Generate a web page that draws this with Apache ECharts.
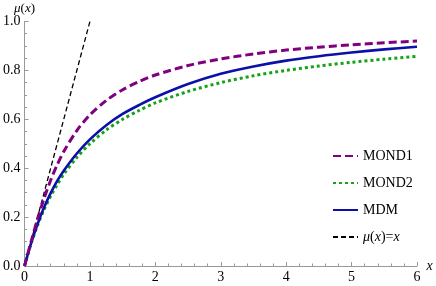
<!DOCTYPE html>
<html>
<head>
<meta charset="utf-8">
<script src="https://cdn.jsdelivr.net/npm/echarts@6/dist/echarts.min.js"></script>
<style>html,body{margin:0;padding:0;background:#fff;}#c{width:436px;height:286px;}</style>
</head>
<body>
<div id="c"></div>
<script>
var xs     = [0, 0.1, 0.2, 0.3, 0.4, 0.5, 0.6, 0.8, 1, 1.25, 1.5, 1.75, 2, 2.5, 3, 3.5, 4, 4.5, 5, 5.5, 6];
var mond1  = [0, 0.099, 0.193, 0.277, 0.351, 0.414, 0.468, 0.554, 0.618, 0.677, 0.721, 0.754, 0.781, 0.820, 0.847, 0.867, 0.883, 0.895, 0.905, 0.913, 0.920];
var mond2  = [0, 0.091, 0.167, 0.231, 0.286, 0.333, 0.375, 0.444, 0.500, 0.556, 0.600, 0.636, 0.667, 0.714, 0.750, 0.778, 0.800, 0.818, 0.833, 0.846, 0.857];
var mdm    = [0, 0.093, 0.172, 0.240, 0.298, 0.348, 0.390, 0.460, 0.518, 0.576, 0.622, 0.658, 0.690, 0.744, 0.786, 0.816, 0.840, 0.858, 0.873, 0.886, 0.897];
var idX    = [0, 1];
var idY    = [0, 1];
var names  = ['MOND1', 'MOND2', 'MDM', 'μ(x)=x'];

function pairs(a, b) { return a.map(function (v, i) { return [v, b[i]]; }); }

var FONT = 'Liberation Serif';
var chart = echarts.init(document.getElementById('c'), null, {renderer: 'canvas'});
chart.setOption({
  animation: false,
  backgroundColor: '#fff',
  textStyle: {fontFamily: FONT},
  grid: {left: 21, right: 19, top: 21.5, bottom: 20, containLabel: false},
  xAxis: {
    type: 'value', min: 0, max: 6, interval: 1,
    name: 'x', nameLocation: 'end', nameGap: 8,
    nameTextStyle: {fontFamily: FONT, fontSize: 14, fontStyle: 'italic', color: '#000', verticalAlign: 'middle'},
    axisLine: {show: true, onZero: false, lineStyle: {color: '#999', width: 1}},
    axisTick: {show: true, inside: true, length: 4, lineStyle: {color: '#999'}},
    minorTick: {show: true, splitNumber: 5, length: 2.5, lineStyle: {color: '#999'}},
    axisLabel: {fontFamily: FONT, fontSize: 14, color: '#000', margin: 4},
    splitLine: {show: false}
  },
  yAxis: {
    type: 'value', min: 0, max: 1, interval: 0.2,
    name: '{i|μ}({i|x})', nameLocation: 'end', nameGap: 6,
    nameTextStyle: {fontFamily: FONT, fontSize: 13, color: '#000', align: 'center',
      rich: {i: {fontFamily: FONT, fontSize: 13, fontStyle: 'italic', color: '#000'}}},
    axisLine: {show: true, onZero: false, lineStyle: {color: '#999', width: 1}},
    axisTick: {show: true, inside: true, length: 4, lineStyle: {color: '#999'}},
    minorTick: {show: true, splitNumber: 4, length: 2.5, lineStyle: {color: '#999'}},
    axisLabel: {fontFamily: FONT, fontSize: 14, color: '#000', margin: 4,
      formatter: function (v) { return v.toFixed(1); }},
    splitLine: {show: false}
  },
  legend: {
    orient: 'vertical', left: 327, top: 144, itemWidth: 25, itemHeight: 14, itemGap: 13,
    data: names,
    itemStyle: {opacity: 0},
    textStyle: {fontFamily: FONT, fontSize: 14, color: '#000',
      rich: {i: {fontFamily: FONT, fontSize: 14, fontStyle: 'italic', color: '#000'}}},
    formatter: function (n) { return n === 'μ(x)=x' ? '{i|μ}({i|x})={i|x}' : n; }
  },
  series: [
    {name: 'μ(x)=x', type: 'line', data: pairs(idX, idY), symbol: 'none', showSymbol: false,
      lineStyle: {color: '#000', width: 1.3, type: [5, 3]}, itemStyle: {color: '#000'}, z: 1},
    {name: 'MOND2', type: 'line', smooth: 0.3, data: pairs(xs, mond2), symbol: 'none', showSymbol: false,
      lineStyle: {color: '#14a314', width: 3, type: [3, 3]}, itemStyle: {color: '#14a314'}, z: 2},
    {name: 'MDM', type: 'line', smooth: 0.3, data: pairs(xs, mdm), symbol: 'none', showSymbol: false,
      lineStyle: {color: '#0a10a8', width: 2.6, type: 'solid'}, itemStyle: {color: '#0a10a8'}, z: 3},
    {name: 'MOND1', type: 'line', smooth: 0.3, data: pairs(xs, mond1), symbol: 'none', showSymbol: false,
      lineStyle: {color: '#800080', width: 3, type: [8, 4]}, itemStyle: {color: '#800080'}, z: 4}
  ]
});
</script>
</body>
</html>
